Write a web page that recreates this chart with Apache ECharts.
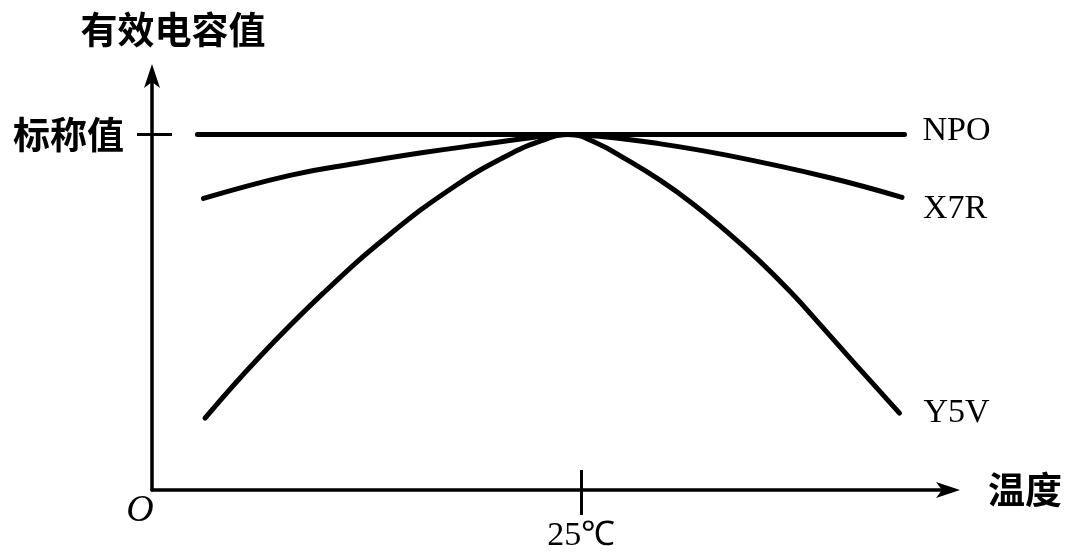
<!DOCTYPE html>
<html>
<head>
<meta charset="utf-8">
<script src="https://cdn.jsdelivr.net/npm/echarts@6/dist/echarts.min.js"></script>
<style>html,body{margin:0;padding:0;background:#fff}#c{width:1088px;height:556px}</style>
</head>
<body>
<div id="c"></div>
<script>
// ---- data (temperature in abstract axis units, capacitance with nominal = 100) ----
var seriesNames = ['NPO', 'X7R', 'Y5V'];
var npoT = [-51, 89];
var npoC = [100, 100];
var x7rT = [-49.8, -32.7, -19.4, -6.3, 6.9, 15, 22, 29, 40, 54, 74, 88.5];
var x7rC = [82.0, 88.5, 91.9, 94.9, 97.5, 99.1, 100, 99.4, 97.5, 94.1, 87.9, 82.3];
var y5vT = [-49.5, -39, -26, -13, 0, 10, 17, 22.5, 28, 34, 40.5, 47, 53.5, 60, 66.5, 73, 79.5, 88];
var y5vC = [20.2, 37.0, 55.5, 71.8, 85.5, 93.8, 98.2, 100, 97.6, 92.9, 87.2, 80.6, 73.0, 64.8, 55.6, 45.4, 35.0, 21.6];
var xTickValues = [25];
var xTickLabels = ['25℃'];
var originValue = [-60];
var originLabel = 'O';
var yTickValues = [100];
var yTickLabels = ['标称值'];
var xName = '温度';
var yName = '有效电容值';

function pairs(t, c) { return t.map(function (v, i) { return [v, c[i]]; }); }

var serif = '"Liberation Serif", "Times New Roman", serif';
var cjk = '"Noto Sans CJK SC", sans-serif';

var chart = echarts.init(document.getElementById('c'), null, { renderer: 'canvas' });

function lineSeries(name, data, dist, offY) {
  return {
    name: name,
    type: 'line',
    data: data,
    smooth: 0.45,
    symbol: 'none',
    lineStyle: { color: '#000', width: 5, cap: 'round' },
    endLabel: {
      show: true,
      formatter: '{a}',
      color: '#000',
      fontFamily: serif,
      fontSize: 34,
      distance: dist,
      offset: [0, offY]
    },
    emphasis: { disabled: true },
    animation: false
  };
}

chart.setOption({
  backgroundColor: '#fff',
  animation: false,
  grid: { left: 152, right: 138, top: 74, bottom: 66, containLabel: false },
  xAxis: [
    {
      type: 'value', min: -60, max: 98, position: 'bottom',
      name: xName, nameLocation: 'end', nameGap: 38,
      nameTextStyle: { color: '#000', fontFamily: cjk, fontWeight: 'bold', fontSize: 37, padding: [8, 0, 0, 0] },
      axisLine: { show: true, onZero: false, lineStyle: { color: '#000', width: 3.5 }, symbol: ['none', 'arrow'], symbolSize: [12, 24], symbolOffset: [0, 10] },
      axisTick: { show: true, inside: false, length: 25, lineStyle: { color: '#000', width: 3 }, customValues: xTickValues },
      axisLabel: {
        show: true, margin: 29, color: '#000', fontFamily: serif, fontSize: 34,
        customValues: xTickValues,
        formatter: function (v) { var i = xTickValues.indexOf(v); return i >= 0 ? xTickLabels[i] : ''; }
      },
      splitLine: { show: false }
    },
    {
      type: 'value', min: -60, max: 98, position: 'bottom', offset: 0,
      axisLine: { show: false, onZero: false },
      axisTick: { show: true, inside: true, length: 20, lineStyle: { color: '#000', width: 3 }, customValues: xTickValues },
      axisLabel: {
        show: true, margin: 2, color: '#000', fontFamily: serif, fontSize: 38, fontStyle: 'italic',
        customValues: originValue,
        padding: [0, 24, 0, 0],
        formatter: function () { return originLabel; }
      },
      splitLine: { show: false }
    }
  ],
  yAxis: [
    {
      type: 'value', min: 0, max: 117, position: 'left',
      name: yName, nameLocation: 'end', nameGap: 26,
      nameTextStyle: { color: '#000', fontFamily: cjk, fontWeight: 'bold', fontSize: 37, padding: [0, 0, 0, 42] },
      axisLine: { show: true, onZero: false, lineStyle: { color: '#000', width: 3.5 }, symbol: ['none', 'arrow'], symbolSize: [12, 24], symbolOffset: [0, 10] },
      axisTick: { show: true, inside: false, length: 15, lineStyle: { color: '#000', width: 3 }, customValues: yTickValues },
      axisLabel: {
        show: true, margin: 28, color: '#000', fontFamily: cjk, fontWeight: 'bold', fontSize: 37,
        customValues: yTickValues,
        formatter: function (v) { var i = yTickValues.indexOf(v); return i >= 0 ? yTickLabels[i] : ''; }
      },
      splitLine: { show: false }
    },
    {
      type: 'value', min: 0, max: 117, position: 'left', offset: 0,
      axisLine: { show: false, onZero: false },
      axisTick: { show: true, inside: true, length: 20, lineStyle: { color: '#000', width: 3 }, customValues: yTickValues },
      axisLabel: { show: false },
      splitLine: { show: false }
    }
  ],
  series: [
    lineSeries(seriesNames[0], pairs(npoT, npoC), 18, -3),
    lineSeries(seriesNames[1], pairs(x7rT, x7rC), 21, 12),
    lineSeries(seriesNames[2], pairs(y5vT, y5vC), 24, 0)
  ]
});
</script>
</body>
</html>
